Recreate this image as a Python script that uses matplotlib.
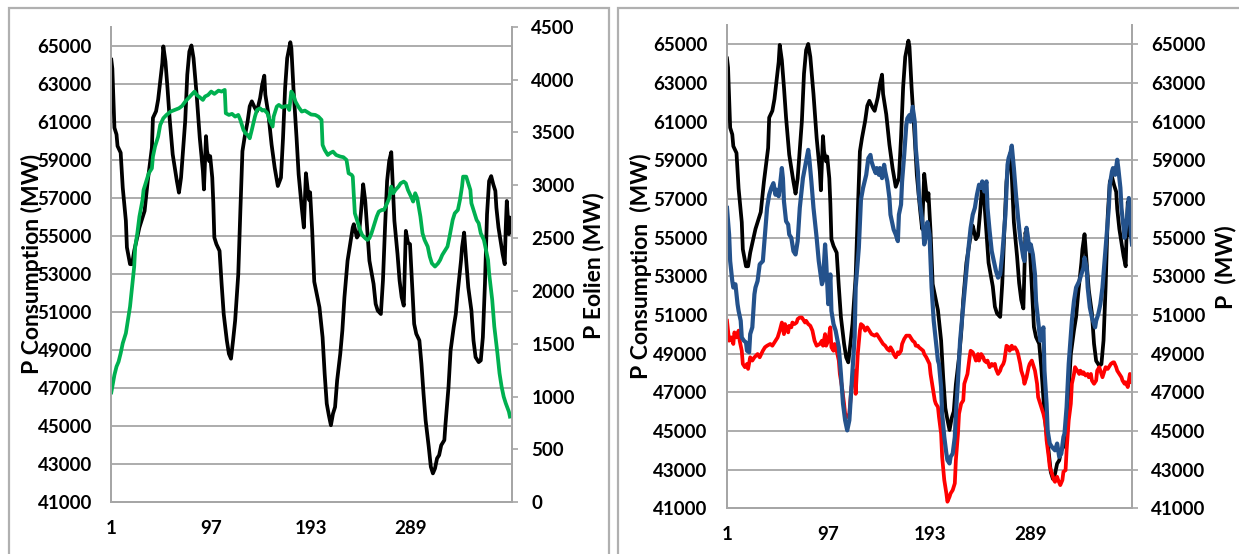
import matplotlib
matplotlib.use("Agg")
import matplotlib.pyplot as plt
from matplotlib.patches import Rectangle

# ---------------------------------------------------------------- data
# time step index (15-min steps over four days) and power values in MW
cons_x = [1, 2, 4, 6, 7, 10, 12, 15, 16, 19, 21, 23, 28, 33, 36, 40, 41, 44, 46, 48,
          50, 51, 53, 55, 57, 60, 64, 66, 68, 72, 74, 76, 78, 80, 83, 86, 89, 90, 92, 93,
          95, 96, 98, 99, 100, 102, 105, 107, 109, 112, 114, 116, 118, 120, 123, 125, 127, 129, 132, 134,
          136, 139, 141, 144, 146, 148, 149, 152, 155, 158, 161, 164, 166, 168, 170, 173, 174, 176, 179, 181,
          184, 186, 188, 190, 191, 192, 194, 196, 199, 201, 204, 206, 208, 210, 212, 214, 216, 218, 221, 223,
          225, 228, 230, 233, 234, 237, 239, 241, 243, 245, 247, 249, 253, 255, 257, 260, 262, 264, 266, 268,
          270, 271, 273, 276, 278, 280, 282, 284, 286, 288, 290, 292, 294, 297, 299, 301, 303, 306, 308, 310,
          312, 314, 316, 318, 321, 322, 325, 327, 330, 332, 334, 337, 338, 340, 342, 344, 347, 349, 351, 354,
          356, 358, 360, 362, 364, 366, 368, 370, 371, 373, 375, 377, 379, 380, 381, 383, 384, 385]
cons_mw = [64270, 63800, 60690, 60340, 59730, 59380, 57540, 55800, 54400, 53520, 53520, 54220, 55450, 56320, 57890, 59640, 61210, 61560, 62170, 63130,
           64090, 64970, 64180, 62780, 61210, 59290, 57890, 57280, 58070, 61040, 63480, 64700, 65020, 64350, 62430, 60160, 58420, 57450, 60250, 59460,
           58940, 59200, 58070, 56760, 54920, 54570, 54220, 52480, 50900, 49510, 48810, 48550, 49510, 50560, 53000, 56320, 59460, 60160, 61040, 61820,
           62080, 61730, 61560, 62260, 62960, 63430, 62430, 61380, 59810, 58590, 57630, 58070, 60160, 62780, 64350, 65190, 64880, 62780, 60160, 58240,
           56490, 55450, 58300, 57300, 56900, 57300, 55300, 52600, 51780, 51250, 49680, 47760, 46190, 45580, 45050, 45660, 46010, 47410, 48810, 50030,
           51780, 53700, 54400, 55450, 55620, 54920, 55100, 56320, 57720, 56840, 55270, 53700, 52480, 51430, 51080, 50900, 52650, 55450, 57890, 58940,
           59410, 58240, 55800, 54050, 52650, 51780, 51340, 55270, 54660, 54570, 52480, 50380, 49860, 49510, 48280, 46710, 45310, 43920, 42870, 42520,
           42780, 43310, 43480, 44000, 44270, 45050, 47060, 48980, 50210, 50900, 52130, 53700, 54400, 55180, 53700, 52300, 51080, 49510, 48630, 48370,
           48460, 49680, 52480, 56140, 57890, 58150, 57720, 57370, 56490, 55450, 54750, 54050, 53520, 55450, 56840, 55100, 55970, 55450]

wind_x = [1, 4, 6, 8, 10, 12, 15, 17, 19, 21, 23, 24, 26, 28, 31, 32, 35, 37, 40, 41,
          43, 46, 48, 51, 54, 58, 62, 66, 69, 72, 75, 78, 81, 83, 86, 89, 91, 94, 97, 100,
          104, 107, 110, 111, 114, 117, 120, 123, 125, 128, 130, 132, 134, 136, 139, 141, 144, 146, 148, 151,
          153, 156, 157, 160, 162, 165, 167, 170, 172, 174, 176, 178, 181, 184, 187, 190, 193, 197, 200, 203,
          204, 206, 209, 211, 214, 217, 221, 224, 227, 229, 232, 233, 235, 238, 240, 242, 245, 247, 249, 251,
          253, 256, 258, 261, 263, 266, 268, 270, 272, 274, 277, 279, 282, 284, 286, 289, 291, 293, 295, 298,
          300, 302, 305, 307, 309, 312, 315, 317, 319, 322, 324, 326, 329, 331, 334, 336, 338, 339, 342, 344,
          346, 347, 350, 352, 354, 356, 359, 361, 363, 364, 367, 369, 372, 374, 376, 378, 380, 383, 384]
wind_mw = [1040, 1205, 1284, 1331, 1410, 1505, 1600, 1726, 1852, 2041, 2231, 2420, 2546, 2704, 2862, 2956, 3051, 3114, 3161, 3272,
           3366, 3461, 3571, 3635, 3666, 3698, 3713, 3729, 3751, 3792, 3824, 3855, 3887, 3855, 3833, 3808, 3840, 3855, 3887, 3865,
           3896, 3887, 3903, 3682, 3666, 3676, 3650, 3666, 3619, 3524, 3492, 3477, 3445, 3524, 3650, 3713, 3729, 3707, 3713, 3682,
           3619, 3556, 3650, 3745, 3761, 3739, 3745, 3751, 3713, 3887, 3855, 3792, 3739, 3698, 3707, 3688, 3670, 3666, 3650, 3619,
           3382, 3335, 3287, 3303, 3319, 3287, 3272, 3266, 3240, 3114, 3098, 3082, 2735, 2641, 2578, 2530, 2499, 2483, 2499, 2546,
           2609, 2704, 2751, 2767, 2767, 2830, 2877, 2988, 2925, 2956, 2988, 3019, 3035, 3019, 2956, 2893, 2846, 2925, 2877, 2704,
           2546, 2483, 2420, 2325, 2262, 2231, 2262, 2294, 2341, 2388, 2420, 2515, 2672, 2735, 2767, 2862, 2988, 3082, 3082, 3019,
           2956, 2830, 2735, 2672, 2641, 2546, 2483, 2388, 2294, 2168, 1915, 1663, 1410, 1221, 1095, 1000, 937, 858, 811]

blue_x = [1, 3, 4, 6, 7, 9, 11, 12, 14, 15, 17, 19, 20, 22, 23, 25, 27, 28, 30, 32,
          35, 37, 39, 41, 43, 45, 47, 48, 50, 51, 53, 54, 55, 57, 59, 60, 62, 64, 66, 68,
          70, 73, 76, 78, 79, 81, 83, 86, 88, 91, 92, 94, 95, 97, 99, 100, 102, 104, 107, 109,
          111, 113, 115, 117, 119, 122, 123, 126, 128, 130, 133, 135, 137, 138, 140, 142, 143, 145, 146, 148,
          150, 151, 153, 155, 156, 158, 159, 161, 163, 164, 166, 167, 169, 171, 172, 174, 175, 177, 179, 180,
          182, 183, 185, 187, 188, 190, 191, 193, 194, 195, 197, 199, 201, 202, 204, 205, 207, 209, 210, 212,
          213, 215, 217, 218, 220, 222, 224, 226, 228, 230, 232, 234, 236, 238, 240, 242, 243, 245, 247, 248,
          250, 252, 254, 256, 258, 260, 262, 265, 267, 268, 270, 271, 273, 275, 277, 279, 282, 283, 285, 286,
          288, 289, 291, 293, 294, 296, 298, 301, 302, 304, 305, 307, 309, 312, 314, 316, 318, 320, 321, 323,
          325, 328, 330, 332, 335, 337, 339, 340, 342, 343, 345, 347, 348, 350, 351, 353, 355, 357, 359, 361,
          363, 364, 366, 367, 369, 371, 372, 374, 375, 377, 378, 380, 382, 383, 384, 385]
blue_mw = [56540, 55160, 53790, 52760, 52420, 52590, 51560, 51210, 50700, 49840, 49670, 49580, 49150, 49070, 50010, 50360, 52070, 52420, 52760, 53620,
           53790, 55160, 56540, 57220, 57570, 57820, 57220, 57480, 57140, 57570, 58600, 58080, 56880, 55850, 55680, 55160, 54990, 54300, 54130, 54820,
           56540, 58080, 58940, 59540, 59110, 57910, 56540, 54990, 53790, 52590, 52760, 54650, 53790, 51560, 53100, 51210, 50530, 50190, 49330, 47950,
           46410, 45550, 45030, 45550, 47270, 49840, 52420, 54480, 56970, 57570, 58250, 59110, 59280, 58940, 58600, 58340, 58600, 58250, 58600, 58080,
           58770, 58420, 57910, 57050, 56190, 55680, 55420, 55160, 54820, 56190, 56710, 57910, 59280, 60830, 61170, 61340, 61000, 61770, 61000, 59630,
           58420, 57220, 56370, 55510, 54650, 55160, 55800, 55160, 53790, 52420, 50700, 49670, 48640, 48470, 47270, 45890, 44690, 43830, 43490, 43320,
           43660, 43830, 44690, 45890, 47610, 49670, 50870, 52070, 53280, 54480, 55510, 56190, 56540, 57220, 57740, 57570, 57910, 57390, 57910, 56540,
           55340, 54300, 53790, 53280, 52930, 53100, 54130, 56190, 58770, 59110, 59450, 59760, 58600, 57220, 56020, 54990, 53960, 53790, 55510, 55160,
           54300, 54650, 54130, 53100, 51730, 50700, 49670, 50360, 48120, 46410, 45030, 44350, 44180, 44000, 44350, 43660, 43830, 44690, 44860, 46240,
           48470, 50700, 51730, 52420, 52760, 53100, 53450, 53960, 53450, 52420, 51390, 50870, 50700, 50360, 50700, 51040, 51560, 52420, 53790, 55160,
           56540, 57740, 58420, 58600, 58250, 59030, 58600, 57570, 56540, 55510, 54990, 55850, 57050, 56540, 55160, 54650]

red_x = [1, 2, 3, 5, 7, 8, 10, 12, 13, 15, 16, 18, 20, 21, 23, 25, 27, 30, 32, 35,
         37, 39, 42, 44, 47, 49, 51, 53, 55, 56, 59, 60, 62, 63, 65, 67, 68, 70, 72, 75,
         76, 78, 80, 82, 84, 86, 89, 91, 92, 94, 95, 97, 99, 100, 102, 103, 105, 107, 108, 110,
         112, 113, 115, 117, 119, 122, 123, 125, 127, 128, 130, 132, 134, 136, 138, 141, 143, 145, 147, 149,
         151, 153, 155, 156, 158, 159, 161, 163, 164, 166, 167, 169, 171, 172, 174, 175, 177, 179, 180, 182,
         183, 185, 187, 188, 190, 193, 194, 196, 198, 199, 201, 202, 204, 205, 207, 209, 210, 212, 213, 215,
         217, 218, 220, 221, 223, 225, 226, 228, 229, 231, 232, 234, 236, 237, 239, 240, 242, 244, 245, 247,
         248, 250, 252, 253, 255, 256, 258, 260, 261, 263, 264, 266, 268, 269, 271, 272, 274, 276, 277, 279,
         280, 282, 283, 285, 287, 288, 290, 291, 293, 295, 296, 298, 299, 301, 303, 304, 306, 307, 309, 311,
         312, 314, 315, 317, 319, 320, 322, 323, 325, 327, 328, 330, 331, 333, 335, 336, 338, 339, 341, 343,
         344, 346, 347, 349, 351, 352, 354, 355, 357, 359, 360, 362, 363, 365, 367, 368, 370, 371, 373, 375,
         376, 378, 379, 381, 383, 384, 385]
red_mw = [50700, 50190, 49670, 49840, 49500, 50100, 49840, 50190, 49670, 49150, 48470, 48300, 48470, 48210, 48810, 48640, 48810, 48980, 48810, 49150,
          49330, 49410, 49500, 49410, 49670, 49840, 50190, 50610, 50010, 50530, 50100, 50440, 50360, 50610, 50530, 50610, 50790, 50870, 50870, 50610,
          50700, 50530, 50440, 50190, 49670, 49410, 49500, 49670, 49410, 50010, 49410, 49670, 50360, 49330, 49150, 49500, 49150, 48640, 47950, 47270,
          46410, 45890, 45720, 45890, 47270, 48120, 46920, 48980, 50190, 50530, 50440, 50190, 50360, 50190, 50010, 49930, 50010, 49840, 49670, 49500,
          49410, 49240, 49150, 49330, 49150, 48980, 48810, 49070, 48980, 49150, 49500, 49760, 49930, 49930, 49930, 49840, 49670, 49580, 49410, 49410,
          49330, 49240, 49150, 48980, 48810, 48470, 47950, 47270, 46580, 46410, 46240, 45720, 44860, 43660, 42460, 41770, 41340, 41600, 41770, 41940,
          42290, 43490, 44860, 45890, 46410, 46580, 47440, 47780, 47950, 48810, 49150, 49070, 48810, 48640, 48980, 48640, 48980, 48810, 48640, 48550,
          48640, 48300, 48470, 48380, 48470, 48210, 47950, 48120, 48300, 48470, 48640, 49410, 49330, 49150, 49410, 49240, 49330, 49150, 48980, 48470,
          48120, 47780, 47440, 47780, 48300, 48470, 48640, 48470, 48120, 47440, 46750, 46410, 46240, 45890, 45380, 44520, 43660, 43150, 42800, 42460,
          42370, 42630, 42460, 42200, 42460, 42890, 42970, 44000, 45550, 46410, 47440, 47950, 48300, 48120, 47950, 48120, 47950, 48040, 47870, 47950,
          47780, 47950, 47610, 47440, 47610, 48120, 48300, 48120, 47780, 48120, 48300, 48210, 48300, 48470, 48550, 48550, 48300, 48120, 47950, 47780,
          47610, 47440, 47520, 47270, 47950, 47520, 47610]

cons_ticks = list(range(41000, 65001, 2000))
wind_ticks = list(range(0, 4501, 500))
x_ticks = [1, 97, 193, 289]

# ---------------------------------------------------------------- style
plt.rcParams['font.family'] = ['Lato', 'DejaVu Sans']
W, H = 1239, 554
GRID = '#a6a6a6'
TICK_FS = 13.5
TITLE_FS = 16.5
LW = 2.7

fig = plt.figure(figsize=(W / 100, H / 100), dpi=100)


def frac_box(x0, y0, x1, y1):
    """Pixel box (top-left origin) -> figure fraction [l, b, w, h]."""
    return [x0 / W, 1 - y1 / H, (x1 - x0) / W, (y1 - y0) / H]


# light grey frames around each chart
for x0, x1 in [(8.7, 609), (618, 1260)]:
    fig.patches.append(Rectangle((x0 / W, -0.05), (x1 - x0) / W, 1.05 - 7.8 / H,
                                 transform=fig.transFigure, fill=False,
                                 ec='#b0b0b0', lw=1.6, zorder=0))


def style_axes(ax, twin, xmax):
    ax.set_xlim(1, xmax)
    ax.set_ylim(41000, 66000)
    ax.set_yticks(cons_ticks)
    ax.set_xticks(x_ticks)
    ax.set_xticklabels([str(t) for t in x_ticks])
    ax.grid(axis='y', color=GRID, lw=1.3)
    ax.set_axisbelow(True)
    ax.spines['top'].set_visible(False)
    twin.spines['top'].set_visible(False)
    for side in ['left', 'bottom', 'right']:
        for a in (ax, twin):
            a.spines[side].set_color(GRID)
            a.spines[side].set_linewidth(1.3)
    ax.tick_params(axis='y', length=0, pad=14, labelsize=TICK_FS)
    ax.tick_params(axis='x', length=0, pad=13, labelsize=TICK_FS)
    twin.tick_params(axis='y', length=4, width=1.2, color=GRID, pad=10,
                     labelsize=TICK_FS, direction='out')
    for lab in ax.get_xticklabels() + ax.get_yticklabels() + twin.get_yticklabels():
        lab.set_fontweight('bold')


# ---------------------------------------------------------------- left chart
axL = fig.add_axes(frac_box(111.3, 26.8, 512, 502.3))
axL2 = axL.twinx()
axL.plot(cons_x, cons_mw, color='black', lw=LW, solid_joinstyle='round')
axL2.plot(wind_x, wind_mw, color='#00b050', lw=LW, solid_joinstyle='round')
axL2.set_ylim(0, 4500)
axL2.set_yticks(wind_ticks)
style_axes(axL, axL2, 386)

# ---------------------------------------------------------------- right chart
axR = fig.add_axes(frac_box(727, 25, 1132, 508.3))
axR2 = axR.twinx()
axR.plot(cons_x, cons_mw, color='black', lw=LW, solid_joinstyle='round')
axR2.plot(red_x, red_mw, color='#ff0000', lw=LW, solid_joinstyle='round')
axR2.plot(blue_x, blue_mw, color='#24528c', lw=LW + 0.3, solid_joinstyle='round')
axR2.set_ylim(41000, 66000)
axR2.set_yticks(cons_ticks)
style_axes(axR, axR2, 385)

# ---------------------------------------------------------------- axis titles
for x, y, txt in [(32, 264, 'P Consumption (MW)'),
                  (593, 266, 'P Eolien (MW)'),
                  (641, 266, 'P Consumption  (MW)'),
                  (1226, 267, 'P  (MW)')]:
    fig.text(x / W, 1 - y / H, txt, rotation=90, ha='center', va='center',
             fontsize=TITLE_FS, fontweight='bold')

fig.savefig('out.png', dpi=100)
